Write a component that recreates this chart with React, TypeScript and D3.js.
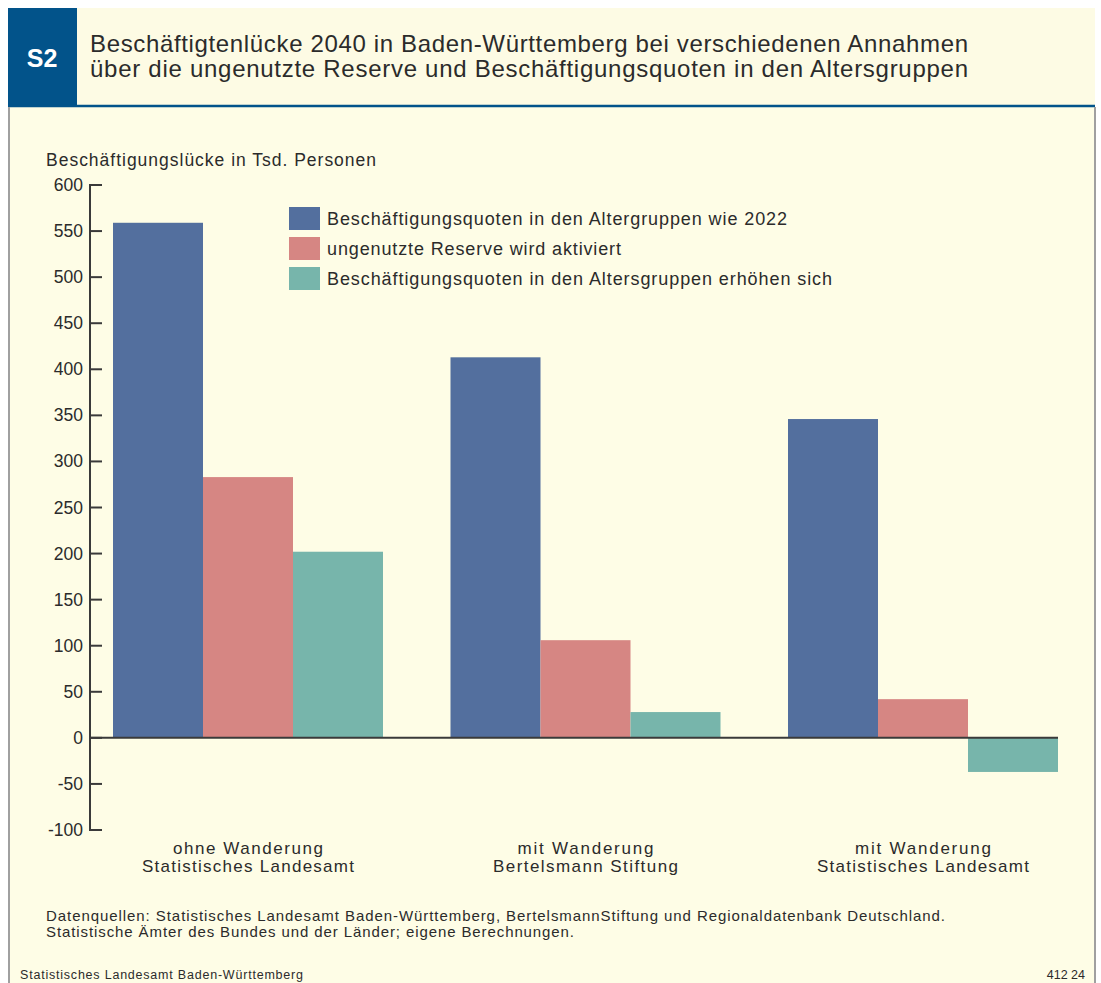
import React from "react";
import * as d3 from "d3";

const categories = [
  ["ohne Wanderung", "Statistisches Landesamt"],
  ["mit Wanderung", "Bertelsmann Stiftung"],
  ["mit Wanderung", "Statistisches Landesamt"],
];
const seriesNames = [
  "Beschäftigungsquoten in den Altergruppen wie 2022",
  "ungenutzte Reserve wird aktiviert",
  "Beschäftigungsquoten in den Altersgruppen erhöhen sich",
];
const seriesQuoten2022 = [559, 413, 346];
const seriesReserve = [283, 106, 42];
const seriesErhoehen = [202, 28, -37];
const yTicks = [600, 550, 500, 450, 400, 350, 300, 250, 200, 150, 100, 50, 0, -50, -100];
const colors = ["#536f9e", "#d68683", "#77b5ab"];

const W = 1101;
const H = 983;
const FONT = "'Liberation Sans', Arial, sans-serif";
const INK = "#2b2b2b";

// approximate reference widths (layout)
const legendLen = [460, 294, 505];
const catLen: Record<string, number> = {
  "ohne Wanderung": 150,
  "Statistisches Landesamt": 212,
  "mit Wanderung": 136,
  "Bertelsmann Stiftung": 185,
};

export default function App() {
  const series = [seriesQuoten2022, seriesReserve, seriesErhoehen];
  const y = d3.scaleLinear().domain([-100, 600]).range([830, 185]);
  const groupX = d3.scaleLinear().domain([0, 2]).range([113, 788]);
  const x1 = d3.scaleBand<number>().domain([0, 1, 2]).range([0, 270]).padding(0);

  return (
    <div style={{ position: "absolute", left: 0, top: 0 }}>
      <svg width={W} height={H} style={{ display: "block", fontFamily: FONT }}>
        <rect x={0} y={0} width={W} height={H} fill="#ffffff" />
        <rect x={8} y={106} width={1087} height={H - 106} fill="#fefde6" />
        <rect x={77} y={8} width={1018} height={98} fill="#fdfbe4" />
        <rect x={8} y={8} width={69} height={98} fill="#02538a" />
        <line x1={8} x2={1095} y1={106} y2={106} stroke="#02538a" strokeWidth={2.5} />
        <line x1={9} x2={9} y1={107} y2={H} stroke="#a0a0a0" strokeWidth={2} />
        <line x1={1095} x2={1095} y1={107} y2={H} stroke="#a0a0a0" strokeWidth={2} />
        <text x={42} y={67} textAnchor="middle" fill="#ffffff" fontSize={25} fontWeight="bold">
          S2
        </text>
        <text x={90} y={52} fill={INK} fontSize={24} textLength={878} lengthAdjust="spacing">
          Beschäftigtenlücke 2040 in Baden-Württemberg bei verschiedenen Annahmen
        </text>
        <text x={90} y={77} fill={INK} fontSize={24} textLength={878} lengthAdjust="spacing">
          über die ungenutzte Reserve und Beschäftigungsquoten in den Altersgruppen
        </text>

        <text x={46} y={166} fill={INK} fontSize={17.5} textLength={330} lengthAdjust="spacing">
          Beschäftigungslücke in Tsd. Personen
        </text>

        {series.map((vals, si) =>
          vals.map((v, ci) => (
            <rect
              key={`${si}-${ci}`}
              x={groupX(ci) + (x1(si) as number)}
              width={x1.bandwidth()}
              y={y(Math.max(0, v))}
              height={Math.abs(y(v) - y(0))}
              fill={colors[si]}
            />
          ))
        )}

        <line x1={90} x2={90} y1={y(600)} y2={y(-100)} stroke="#3a3a3a" strokeWidth={2} />
        {yTicks.map((t) => (
          <g key={t}>
            <line x1={89} x2={102} y1={y(t)} y2={y(t)} stroke="#3a3a3a" strokeWidth={2} />
            <text x={83} y={y(t) + 6} textAnchor="end" fill={INK} fontSize={17.5}>
              {t}
            </text>
          </g>
        ))}
        <line x1={90} x2={1058} y1={y(0)} y2={y(0)} stroke="#3a3a3a" strokeWidth={2} />

        {categories.map((lines, ci) => (
          <g key={ci}>
            {lines.map((ln, li) => (
              <text
                key={li}
                x={groupX(ci) + 135}
                y={854 + li * 17.5}
                textAnchor="middle"
                fill={INK}
                fontSize={17}
                textLength={catLen[ln]}
                lengthAdjust="spacing"
              >
                {ln}
              </text>
            ))}
          </g>
        ))}

        {seriesNames.map((name, i) => (
          <g key={name} transform={`translate(289, ${207 + i * 30})`}>
            <rect x={0} y={0} width={31} height={23} fill={colors[i]} />
            <text x={38} y={18} fill={INK} fontSize={18} textLength={legendLen[i]} lengthAdjust="spacing">
              {name}
            </text>
          </g>
        ))}

        <text x={46} y={921} fill={INK} fontSize={15} textLength={899} lengthAdjust="spacing">
          Datenquellen: Statistisches Landesamt Baden-Württemberg, BertelsmannStiftung und Regionaldatenbank Deutschland.
        </text>
        <text x={46} y={937} fill={INK} fontSize={15} textLength={528} lengthAdjust="spacing">
          Statistische Ämter des Bundes und der Länder; eigene Berechnungen.
        </text>
        <text x={20} y={979} fill={INK} fontSize={12.5} textLength={283} lengthAdjust="spacing">
          Statistisches Landesamt Baden-Württemberg
        </text>
        <text x={1085} y={979} textAnchor="end" fill={INK} fontSize={12.5}>
          412 24
        </text>
      </svg>
    </div>
  );
}
